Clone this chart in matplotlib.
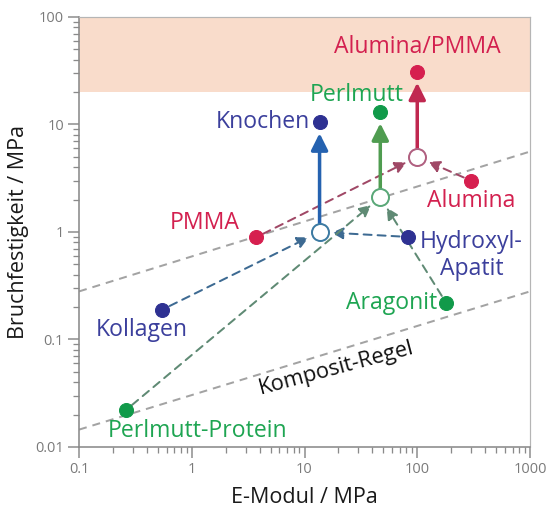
import matplotlib.pyplot as plt

plt.rcParams['font.family'] = ['Open Sans', 'DejaVu Sans']

# composite materials: mixture point (open) and real material (filled)
comp_labels = ["Knochen", "Perlmutt", "Alumina/PMMA"]
comp_E = [13.6, 47, 100]
comp_mix_sigma = [1.0, 2.1, 5.0]
comp_sigma = [10.5, 13, 31]

# soft component of each composite
soft_labels = ["Kollagen", "Perlmutt-Protein", "PMMA"]
soft_E = [0.55, 0.26, 3.7]
soft_sigma = [0.19, 0.022, 0.89]

# stiff component of each composite
hard_labels = ["Hydroxyl-\nApatit", "Aragonit", "Alumina"]
hard_E = [82, 180, 300]
hard_sigma = [0.9, 0.22, 3.0]

# guide lines (rule of mixtures and upper bound)
guide_E = [0.1, 1000]
rule_sigma = [0.0145, 0.28]
upper_sigma = [0.28, 5.6]

x_ticks = [0.1, 1, 10, 100, 1000]
x_ticklabels = ["0.1", "1", "10", "100", "1000"]
y_ticks = [0.01, 0.1, 1, 10, 100]
y_ticklabels = ["0.01", "0.1", "1", "10", "100"]

dot_col = ["#2e3192", "#119a4a", "#d61f4f"]
text_col = ["#3b3f9c", "#1ea552", "#d3204f"]
arrow_col = ["#2562b0", "#4f9c50", "#c02850"]
mix_col = ["#3c7aa2", "#5aa878", "#b06080"]
dash_col = ["#3d6a92", "#5f8a74", "#a04866"]

FS = 23

fig = plt.figure(figsize=(553 / 72, 512 / 72), dpi=72)
ax = fig.add_axes([0.1429, 0.127, 0.8155, 0.8398])
ax.set_xscale('log')
ax.set_yscale('log')
ax.set_xlim(0.1, 1000)
ax.set_ylim(0.01, 100)

ax.axhspan(20, 100, color='#f9dccb', zorder=0, lw=0)

ax.plot(guide_E, rule_sigma, color='#a3a3a3', lw=2, ls=(0, (4, 3)), zorder=1)
ax.plot(guide_E, upper_sigma, color='#a3a3a3', lw=2, ls=(0, (4, 3)), zorder=1)
ax.text(19, 0.054, "Komposit-Regel", fontsize=FS * 0.95, rotation=15,
        ha='center', va='center', color='#111111')

# dashed arrows from both components to the mixture point
for i in range(3):
    for ex, sy in [(soft_E[i], soft_sigma[i]), (hard_E[i], hard_sigma[i])]:
        ax.annotate("", xy=(comp_E[i], comp_mix_sigma[i]), xytext=(ex, sy),
                    arrowprops=dict(arrowstyle='-|>,head_length=0.6,head_width=0.3',
                                    mutation_scale=16, color=dash_col[i], lw=2,
                                    ls=(0, (4, 3)), shrinkA=8, shrinkB=12),
                    zorder=2)

# solid arrows: mixture -> real composite
for i in range(3):
    ax.annotate("", xy=(comp_E[i], comp_sigma[i]), xytext=(comp_E[i], comp_mix_sigma[i]),
                arrowprops=dict(arrowstyle='-|>,head_length=0.7,head_width=0.35',
                                mutation_scale=20, color=arrow_col[i], lw=3.5,
                                shrinkA=9, shrinkB=11),
                zorder=3)

for i in range(3):
    ax.plot(comp_E[i], comp_mix_sigma[i], 'o', ms=17, mfc='white',
            mec=mix_col[i], mew=2, zorder=4)
    ax.plot(comp_E[i], comp_sigma[i], 'o', ms=14, color=dot_col[i], zorder=4)
    ax.plot(soft_E[i], soft_sigma[i], 'o', ms=14, color=dot_col[i], zorder=4)
    ax.plot(hard_E[i], hard_sigma[i], 'o', ms=14, color=dot_col[i], zorder=4)

# label offsets in points
comp_off = [(-10, 0, 'right', 'center'), (-24, 17, 'center', 'center'), (0, 25, 'center', 'center')]
soft_off = [(-21, -20, 'center', 'center'), (-18, -21, 'left', 'center'), (-16, 14, 'right', 'center')]
hard_off = [(64, 7, 'center', 'top'), (-9, 0, 'right', 'center'), (0, -20, 'center', 'center')]

for labels, xs, ys, offs in [(comp_labels, comp_E, comp_sigma, comp_off),
                             (soft_labels, soft_E, soft_sigma, soft_off),
                             (hard_labels, hard_E, hard_sigma, hard_off)]:
    for i in range(3):
        dx, dy, ha, va = offs[i]
        ax.annotate(labels[i], (xs[i], ys[i]), xytext=(dx, dy), textcoords='offset points',
                    ha=ha, va=va, fontsize=FS, color=text_col[i], linespacing=1.15,
                    zorder=5)

ax.set_xticks(x_ticks)
ax.set_xticklabels(x_ticklabels)
ax.set_yticks(y_ticks)
ax.set_yticklabels(y_ticklabels)
ax.tick_params(which='major', length=11, width=1.5, color='#8a8a8a',
               labelsize=14.5, labelcolor='#7a7a7a', pad=4)
ax.tick_params(which='minor', length=6, width=1.3, color='#8a8a8a')

for side in ['left', 'bottom']:
    ax.spines[side].set_color('#8a8a8a')
    ax.spines[side].set_linewidth(1.6)
for side in ['top', 'right']:
    ax.spines[side].set_color('#b5b5b5')
    ax.spines[side].set_linewidth(1.2)

ax.set_xlabel("E-Modul / MPa", fontsize=21.5, color='#1a1a1a')
ax.set_ylabel("Bruchfestigkeit / MPa", fontsize=21.5, color='#1a1a1a')
ax.xaxis.set_label_coords(0.5, -0.093)
ax.yaxis.set_label_coords(-0.111, 0.5)

fig.savefig("out.png", dpi=72)
